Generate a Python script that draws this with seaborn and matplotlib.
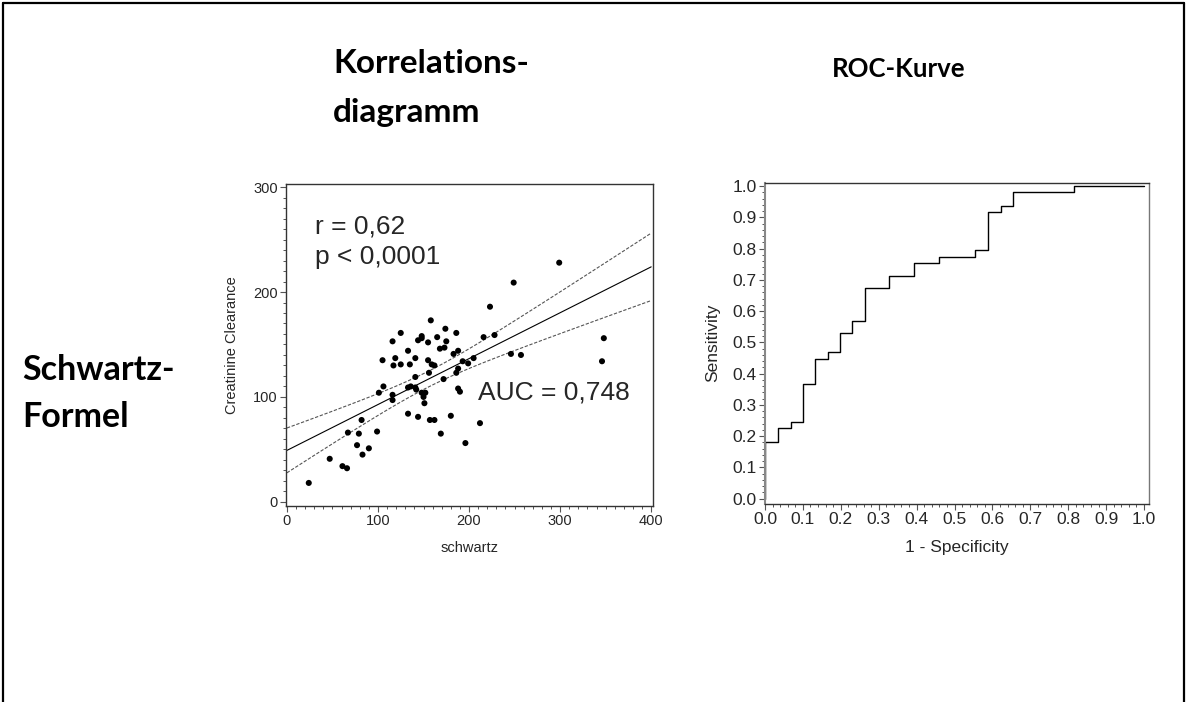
import numpy as np
import pandas as pd
import matplotlib
matplotlib.use('Agg')
import matplotlib.pyplot as plt
import seaborn as sns
from matplotlib.lines import Line2D
from matplotlib.ticker import MultipleLocator, FormatStrFormatter

# ---------------- data ----------------
schwartz = [24, 47, 61, 66, 67, 82, 79, 77, 83, 90, 99, 101, 106, 105, 116, 116,
            119, 117, 125, 116, 133, 135, 141, 144, 155, 133, 144, 133, 136, 141,
            142, 141, 148, 150, 152, 151, 155, 159, 162, 156, 157, 162, 169, 172,
            168, 173, 175, 180, 183, 186, 188, 188, 188, 190, 196, 193, 199, 205,
            212, 246, 257, 346, 299, 249, 223, 216, 228, 348, 158, 174, 125, 148,
            148, 165, 186]
clearance = [18, 41, 34, 32, 66, 78, 65, 54, 45, 51, 67, 104, 110, 135, 102, 97,
             137, 130, 131, 153, 144, 131, 137, 154, 152, 84, 81, 109, 110, 109,
             107, 119, 104, 100, 104, 94, 135, 131, 130, 123, 78, 78, 65, 117,
             146, 147, 153, 82, 141, 123, 127, 144, 108, 105, 56, 134, 132, 137,
             75, 141, 140, 134, 228, 209, 186, 157, 159, 156, 173, 165, 161, 158,
             156, 157, 161]

roc_fpr = [0.0, 0.0, 0.035, 0.068, 0.101, 0.132, 0.165, 0.199, 0.230, 0.263,
           0.327, 0.394, 0.458, 0.554, 0.588, 0.622, 0.654, 0.815, 1.0]
roc_sens = [0.0, 0.182, 0.225, 0.245, 0.367, 0.447, 0.471, 0.531, 0.570, 0.673,
            0.713, 0.753, 0.774, 0.795, 0.917, 0.938, 0.980, 1.0, 1.0]

title_left = ["Korrelations-", "diagramm"]
title_right = "ROC-Kurve"
row_label = ["Schwartz-", "Formel"]
stat_r = "r = 0,62"
stat_p = "p < 0,0001"
stat_auc = "AUC = 0,748"

# ---------------- style ----------------
sns.set_theme(style='ticks')
plt.rcParams['font.family'] = ['Liberation Sans', 'DejaVu Sans']

W, H = 1187, 702
fig = plt.figure(figsize=(W / 100, H / 100), dpi=100)
fig.patch.set_facecolor('white')


def fx(px):
    return px / W


def fy(py):
    return 1 - py / H


# slide frame
for xs, ys in [([3, 3], [702, 3]), ([3, 1184], [3, 3]), ([1184, 1184], [3, 702])]:
    fig.add_artist(Line2D([fx(v) for v in xs], [fy(v) for v in ys],
                          color='black', lw=1.6, transform=fig.transFigure))

# headings
hfont = dict(family=['Lato', 'DejaVu Sans'], fontweight='bold', color='black')
fig.text(fx(333), fy(73), title_left[0], ha='left', va='baseline',
         fontsize=24, **hfont)
fig.text(fx(333), fy(122), title_left[1], ha='left', va='baseline',
         fontsize=24, **hfont)
fig.text(fx(899), fy(77), title_right, ha='center', va='baseline',
         fontsize=18.5, **hfont)
fig.text(fx(22), fy(380), row_label[0], ha='left', va='baseline',
         fontsize=24.5, **hfont)
fig.text(fx(22), fy(427), row_label[1], ha='left', va='baseline',
         fontsize=24.5, **hfont)

# ---------------- scatter ----------------
ax1 = fig.add_axes([fx(286), fy(506), (653 - 286) / W, (506 - 184) / H])
df = pd.DataFrame({'schwartz': schwartz, 'clearance': clearance})

x = np.array(schwartz, float)
y = np.array(clearance, float)
n = len(x)
slope, intercept = np.polyfit(x, y, 1)
xg = np.linspace(0, 400, 81)
yfit = intercept + slope * xg
resid = y - (intercept + slope * x)
s = np.sqrt(np.sum(resid ** 2) / (n - 2))
sxx = np.sum((x - x.mean()) ** 2)
hw = 1.99 * s * np.sqrt(1 / n + (xg - x.mean()) ** 2 / sxx)
fit = pd.DataFrame({'x': xg, 'fit': yfit, 'lo': yfit - hw, 'hi': yfit + hw})

sns.lineplot(data=fit, x='x', y='fit', ax=ax1, color='black', lw=0.8)
sns.lineplot(data=fit, x='x', y='lo', ax=ax1, color='#555555', lw=0.8,
             linestyle=(0, (3, 1.5)))
sns.lineplot(data=fit, x='x', y='hi', ax=ax1, color='#555555', lw=0.8,
             linestyle=(0, (3, 1.5)))
sns.scatterplot(data=df, x='schwartz', y='clearance', ax=ax1, color='black',
                s=19, edgecolor='none', linewidth=0, zorder=3)

ax1.set_xlim(-1, 402)
ax1.set_ylim(-4, 303)
ax1.xaxis.set_major_locator(MultipleLocator(100))
ax1.xaxis.set_minor_locator(MultipleLocator(10))
ax1.yaxis.set_major_locator(MultipleLocator(100))
ax1.yaxis.set_minor_locator(MultipleLocator(10))
ax1.set_xlabel('schwartz', fontsize=10.5, labelpad=9)
ax1.set_ylabel('Creatinine Clearance', fontsize=10.5, labelpad=10)
ax1.tick_params(axis='both', which='major', labelsize=10.5, length=4,
                width=0.8, color='#555555', pad=2)
ax1.tick_params(axis='both', which='minor', length=2.2, width=0.7,
                color='#555555')
for sp in ax1.spines.values():
    sp.set_color('#333333')
    sp.set_linewidth(1.0)

ax1.text(31, 256, stat_r, fontsize=19, ha='left', va='baseline')
ax1.text(31, 227, stat_p, fontsize=19, ha='left', va='baseline')
ax1.text(210, 98, stat_auc, fontsize=19, ha='left', va='baseline')

# ---------------- ROC ----------------
ax2 = fig.add_axes([fx(765), fy(504), (1149 - 765) / W, (504 - 182.5) / H])
roc = pd.DataFrame({'fpr': roc_fpr, 'sens': roc_sens})
sns.lineplot(data=roc, x='fpr', y='sens', ax=ax2, estimator=None, sort=False,
             drawstyle='steps-post', color='black', lw=1.0)
ax2.set_xlim(0, 1.013)
ax2.set_ylim(-0.017, 1.012)
ax2.xaxis.set_major_locator(MultipleLocator(0.1))
ax2.xaxis.set_minor_locator(MultipleLocator(0.02))
ax2.yaxis.set_major_locator(MultipleLocator(0.1))
ax2.yaxis.set_minor_locator(MultipleLocator(0.02))
ax2.xaxis.set_major_formatter(FormatStrFormatter('%.1f'))
ax2.yaxis.set_major_formatter(FormatStrFormatter('%.1f'))
ax2.set_xlabel('1 - Specificity', fontsize=12.5, labelpad=9)
ax2.set_ylabel('Sensitivity', fontsize=12.5, labelpad=9)
ax2.tick_params(axis='both', which='major', labelsize=12.5, length=4,
                width=0.8, color='#555555', pad=2)
ax2.tick_params(axis='both', which='minor', length=2.2, width=0.7,
                color='#555555')
for name, sp in ax2.spines.items():
    sp.set_color('#333333')
    sp.set_linewidth(1.0)
ax2.spines['left'].set_color('#888888')
ax2.spines['left'].set_linewidth(1.5)
ax2.spines['right'].set_color('#777777')

fig.savefig('out.png', dpi=100, facecolor='white')
